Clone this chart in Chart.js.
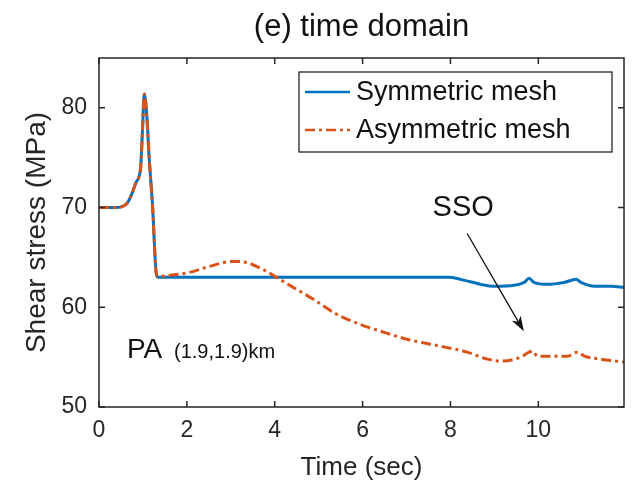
<!DOCTYPE html>
<html>
<head>
<meta charset="utf-8">
<script src="https://cdn.jsdelivr.net/npm/chart.js@4.4.1/dist/chart.umd.min.js"></script>
<style>
  html, body { margin: 0; padding: 0; background: #fff; }
  #wrap { width: 634px; height: 490px; }
</style>
</head>
<body>
<div id="wrap"><canvas id="stressChart" width="634" height="490"></canvas></div>
<script>
// shear stress at PA, symmetric vs asymmetric mesh
const timeSym = [0, 0.3, 0.53, 0.65, 0.76, 0.84, 0.91, 0.95, 0.99, 1.03, 1.09, 1.14, 1.22, 1.30, 1.34,
  2, 3, 4, 5, 6, 7, 7.95, 8.23, 8.69, 9.0, 9.45, 9.68, 9.79, 9.9, 10.21, 10.59, 10.86, 10.97, 11.28, 11.66, 11.95];
const stressSym = [70, 70, 70.1, 70.5, 71.5, 72.5, 73.1, 74.1, 77.8, 81.4, 79.1, 75.1, 70.1, 63.5, 63,
  63, 63, 63, 63, 63, 63, 63, 62.8, 62.3, 62.1, 62.2, 62.5, 62.9, 62.5, 62.3, 62.5, 62.8, 62.5, 62.1, 62.1, 62.0];

const timeAsym = [0, 0.3, 0.53, 0.65, 0.76, 0.84, 0.91, 0.95, 0.99, 1.03, 1.09, 1.14, 1.22, 1.30, 1.34,
  1.6, 2.06, 2.51, 3.05, 3.35, 3.73, 4.04, 4.42, 4.88, 5.41, 5.94, 6.48, 7.01, 7.54, 8.0, 8.38, 8.84,
  9.14, 9.6, 9.79, 9.87, 9.98, 10.36, 10.67, 10.89, 11.05, 11.43, 11.95];
const stressAsym = [70, 70, 70.1, 70.5, 71.5, 72.5, 73.1, 74.1, 77.8, 81.4, 79.1, 75.1, 70.1, 63.5, 63.1,
  63.2, 63.5, 64.1, 64.6, 64.5, 63.8, 63.0, 62.0, 60.8, 59.3, 58.3, 57.5, 56.8, 56.3, 55.9, 55.5, 54.8,
  54.6, 55.0, 55.5, 55.6, 55.1, 55.1, 55.1, 55.5, 55.1, 54.8, 54.5];

const xTicks = [0, 2, 4, 6, 8, 10];
const yTicks = [50, 60, 70, 80];
const seriesLabels = ['Symmetric mesh', 'Asymmetric mesh'];

const FONT = "'Liberation Sans', Arial, Helvetica, sans-serif";
const INK = '#262626';

function toPoints(xs, ys) {
    return xs.map((x, i) => ({ x: x, y: ys[i] }));
}

// box with inward ticks on all four sides, like a matlab axes
const framePlugin = {
    id: 'frame',
    afterDatasetsDraw(chart) {
        const { ctx, chartArea: a, scales: { x, y } } = chart;
        ctx.save();
        ctx.strokeStyle = INK;
        ctx.lineWidth = 1.5;
        ctx.strokeRect(a.left, a.top, a.right - a.left, a.bottom - a.top);
        ctx.beginPath();
        xTicks.forEach(v => {
            const px = x.getPixelForValue(v);
            ctx.moveTo(px, a.bottom); ctx.lineTo(px, a.bottom - 6);
            ctx.moveTo(px, a.top); ctx.lineTo(px, a.top + 6);
        });
        yTicks.forEach(v => {
            const py = y.getPixelForValue(v);
            ctx.moveTo(a.left, py); ctx.lineTo(a.left + 6, py);
            ctx.moveTo(a.right, py); ctx.lineTo(a.right - 6, py);
        });
        ctx.stroke();
        ctx.restore();
    }
};

// title, annotations and the boxed legend
const notesPlugin = {
    id: 'notes',
    afterDraw(chart) {
        const { ctx, chartArea: a, scales: { x, y } } = chart;
        ctx.save();
        ctx.fillStyle = '#111';
        ctx.textAlign = 'center';
        ctx.textBaseline = 'middle';
        ctx.font = `31px ${FONT}`;
        ctx.fillText('(e) time domain', (a.left + a.right) / 2, 27);

        // SSO label + arrow
        ctx.font = `29px ${FONT}`;
        ctx.fillText('SSO', x.getPixelForValue(8.29), y.getPixelForValue(70));
        const x0 = x.getPixelForValue(8.38), y0 = y.getPixelForValue(67.4);
        const x1 = x.getPixelForValue(9.67), y1 = y.getPixelForValue(57.6);
        const ang = Math.atan2(y1 - y0, x1 - x0);
        ctx.strokeStyle = '#111';
        ctx.lineWidth = 1.3;
        ctx.beginPath();
        ctx.moveTo(x0, y0);
        ctx.lineTo(x1 - 10 * Math.cos(ang), y1 - 10 * Math.sin(ang));
        ctx.stroke();
        ctx.beginPath();
        ctx.moveTo(x1, y1);
        ctx.lineTo(x1 - 15 * Math.cos(ang) + 5 * Math.sin(ang), y1 - 15 * Math.sin(ang) - 5 * Math.cos(ang));
        ctx.lineTo(x1 - 11 * Math.cos(ang), y1 - 11 * Math.sin(ang));
        ctx.lineTo(x1 - 15 * Math.cos(ang) - 5 * Math.sin(ang), y1 - 15 * Math.sin(ang) + 5 * Math.cos(ang));
        ctx.closePath();
        ctx.fillStyle = '#111';
        ctx.fill();

        // PA (1.9,1.9)km
        ctx.textAlign = 'left';
        ctx.textBaseline = 'alphabetic';
        ctx.font = `28px ${FONT}`;
        ctx.fillText('PA', 127, 358);
        ctx.font = `20px ${FONT}`;
        ctx.fillText('(1.9,1.9)km', 174, 358);

        // legend
        const lx = 299, ly = 72, lw = 313, lh = 80;
        ctx.fillStyle = '#fff';
        ctx.fillRect(lx, ly, lw, lh);
        ctx.strokeStyle = INK;
        ctx.lineWidth = 1.3;
        ctx.strokeRect(lx, ly, lw, lh);
        const rows = [92, 130];
        chart.data.datasets.forEach((ds, i) => {
            const ry = rows[i];
            ctx.strokeStyle = ds.borderColor;
            ctx.lineWidth = 2.5;
            ctx.setLineDash(ds.borderDash || []);
            ctx.beginPath();
            ctx.moveTo(lx + 6, ry);
            ctx.lineTo(lx + 51, ry);
            ctx.stroke();
            ctx.setLineDash([]);
            ctx.fillStyle = '#111';
            ctx.font = `27px ${FONT}`;
            ctx.textBaseline = 'middle';
            ctx.fillText(ds.label, lx + 57, ry + 1);
        });
        ctx.restore();
    }
};

const ctx = document.getElementById('stressChart');
new Chart(ctx, {
    type: 'line',
    data: {
        datasets: [
            {
                label: seriesLabels[0],
                data: toPoints(timeSym, stressSym),
                borderColor: '#0072BD',
                borderWidth: 3,
                pointRadius: 0,
                cubicInterpolationMode: 'monotone',
                order: 1
            },
            {
                label: seriesLabels[1],
                data: toPoints(timeAsym, stressAsym),
                borderColor: '#D95319',
                borderWidth: 3,
                borderDash: [10, 4, 3, 4],
                pointRadius: 0,
                cubicInterpolationMode: 'monotone',
                order: 0
            }
        ]
    },
    options: {
        responsive: false,
        animation: false,
        devicePixelRatio: 1,
        layout: { padding: { top: 58, right: 10, left: 0, bottom: 0 } },
        plugins: { legend: { display: false }, tooltip: { enabled: false } },
        scales: {
            x: {
                type: 'linear',
                min: 0,
                max: 11.95,
                grid: { display: false, drawTicks: false },
                border: { display: false },
                afterBuildTicks: scale => { scale.ticks = xTicks.map(v => ({ value: v })); },
                afterFit: scale => { scale.height = 83; },
                ticks: { color: INK, font: { family: FONT, size: 23 }, padding: 10, maxRotation: 0 },
                title: { display: true, text: 'Time (sec)', color: INK, font: { family: FONT, size: 26 }, padding: { top: 0, bottom: 7 } }
            },
            y: {
                min: 50,
                max: 85,
                grid: { display: false, drawTicks: false },
                border: { display: false },
                afterBuildTicks: scale => { scale.ticks = yTicks.map(v => ({ value: v })); },
                afterFit: scale => { scale.width = 99; },
                ticks: { color: INK, font: { family: FONT, size: 23 }, padding: 12 },
                title: { display: true, text: 'Shear stress (MPa)', color: INK, font: { family: FONT, size: 28 }, padding: 20 }
            }
        }
    },
    plugins: [framePlugin, notesPlugin]
});
</script>
</body>
</html>
